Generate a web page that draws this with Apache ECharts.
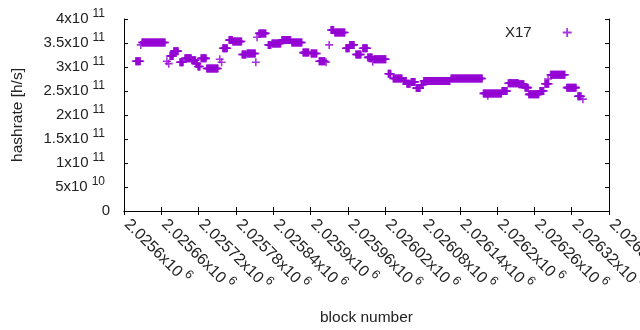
<!DOCTYPE html>
<html>
<head>
<meta charset="utf-8">
<title>hashrate</title>
<script src="https://cdn.jsdelivr.net/npm/echarts@6/dist/echarts.min.js"></script>
<style>
  html, body { margin: 0; padding: 0; background: #fff; }
  #main { width: 640px; height: 330px; }
</style>
</head>
<body>
<div id="main"></div>
<script>
// runs of blocks with the same hashrate
var runStart = [2025619, 2025627, 2025629, 2025669, 2025672, 2025674, 2025680, 2025690, 2025698, 2025709,
                2025716, 2025719, 2025724, 2025733, 2025754, 2025757, 2025759, 2025769, 2025775, 2025790,
                2025798, 2025812, 2025814, 2025817, 2025832, 2025838, 2025854, 2025870, 2025888, 2025901,
                2025914, 2025925, 2025930, 2025933, 2025939, 2025957, 2025963, 2025973, 2025984, 2025992,
                2026000, 2026002, 2026025, 2026033, 2026049, 2026055, 2026062, 2026070, 2026078, 2026082,
                2026126, 2026178, 2026185, 2026208, 2026218, 2026235, 2026245, 2026251, 2026269, 2026277,
                2026282, 2026286, 2026312, 2026330, 2026338];
var runEnd   = [2025626, 2025627, 2025666, 2025669, 2025672, 2025679, 2025687, 2025695, 2025708, 2025715,
                2025718, 2025722, 2025732, 2025751, 2025754, 2025757, 2025766, 2025774, 2025789, 2025796,
                2025811, 2025812, 2025814, 2025828, 2025836, 2025852, 2025868, 2025886, 2025897, 2025910,
                2025923, 2025925, 2025930, 2025937, 2025955, 2025962, 2025970, 2025981, 2025991, 2025999,
                2026000, 2026021, 2026029, 2026047, 2026054, 2026060, 2026068, 2026076, 2026081, 2026124,
                2026176, 2026207, 2026185, 2026216, 2026234, 2026243, 2026250, 2026267, 2026275, 2026283,
                2026282, 2026309, 2026327, 2026335, 2026338];
var runRate  = [3.12, 3.46, 3.51, 3.12, 3.07, 3.23, 3.33, 3.10, 3.18, 3.14,
                3.07, 3.01, 3.18, 2.97, 3.16, 3.10, 3.39, 3.56, 3.53, 3.26,
                3.28, 3.10, 3.62, 3.70, 3.46, 3.49, 3.56, 3.51, 3.30, 3.28,
                3.12, 3.10, 3.46, 3.77, 3.72, 3.39, 3.46, 3.26, 3.39, 3.20,
                3.11, 3.16, 2.86, 2.76, 2.71, 2.65, 2.69, 2.56, 2.63, 2.71,
                2.76, 2.45, 2.40, 2.50, 2.66, 2.64, 2.57, 2.43, 2.50, 2.65,
                2.75, 2.84, 2.57, 2.39, 2.33]; // x 10^11 h/s

var xTickLabels = ['2.0256x10^6', '2.02566x10^6', '2.02572x10^6', '2.02578x10^6', '2.02584x10^6',
                   '2.0259x10^6', '2.02596x10^6', '2.02602x10^6', '2.02608x10^6', '2.02614x10^6',
                   '2.0262x10^6', '2.02626x10^6', '2.02632x10^6', '2.02638x10^6'];
var yTickLabels = ['0', '5x10^10', '1x10^11', '1.5x10^11', '2x10^11', '2.5x10^11',
                   '3x10^11', '3.5x10^11', '4x10^11'];

var points = [];
for (var i = 0; i < runStart.length; i++) {
    for (var b = runStart[i]; b <= runEnd[i]; b++) {
        points.push([b, runRate[i] * 1e11]);
    }
}

function sup(txt) {
    var p = txt.split('^');
    if (p.length < 2) return '{m|' + p[0] + '}';
    return '{m|' + p[0] + '}{s|' + p[1] + '}';
}

var FONT = 'Liberation Sans, Arial, sans-serif';
var plus = 'path://M0,4H10V6H0Z M4,0H6V10H4Z';
var purple = '#9400d3';

var chart = echarts.init(document.getElementById('main'));
var option = {
    animation: false,
    textStyle: { fontFamily: FONT },
    grid: { left: 124, right: 31, top: 19, bottom: 119, containLabel: false, outerBoundsMode: 'none' },
    legend: {
        left: 500, top: 20,
        align: 'right',
        itemWidth: 9, itemHeight: 9,
        data: [{ name: 'X17', icon: plus }],
        formatter: '{t|X17}',
        textStyle: {
            rich: { t: { fontSize: 15, color: '#222', fontFamily: FONT, padding: [0, 26, 0, 0] } }
        }
    },
    xAxis: [{
        type: 'value',
        min: 2025600, max: 2026380, interval: 60,
        name: 'block number', nameLocation: 'middle', nameGap: 99,
        nameTextStyle: { fontSize: 15.5, color: '#222', fontFamily: FONT },
        axisLine: { show: true, lineStyle: { color: '#000', width: 1 } },
        axisTick: { show: true, inside: true, length: 4, lineStyle: { color: '#000' } },
        splitLine: { show: false },
        axisLabel: {
            rotate: -45, margin: 8, interval: 0, hideOverlap: false,
            showMaxLabel: true, showMinLabel: true,
            formatter: function (v, idx) { return sup(xTickLabels[idx] || ''); },
            rich: {
                m: { fontSize: 16, color: '#222', fontFamily: FONT, lineHeight: 26, padding: [0, 0, 0, 4] },
                s: { fontSize: 12.5, color: '#222', fontFamily: FONT, lineHeight: 12, verticalAlign: 'top', padding: [0, 0, 0, 3] }
            }
        }
    }, {
        type: 'value', position: 'top',
        min: 2025600, max: 2026380, interval: 60,
        axisLine: { show: true, lineStyle: { color: '#000', width: 1 } },
        axisTick: { show: true, inside: true, length: 4, lineStyle: { color: '#000' } },
        axisLabel: { show: false }, splitLine: { show: false }
    }],
    yAxis: [{
        type: 'value',
        min: 0, max: 4e11, interval: 5e10,
        name: 'hashrate [h/s]', nameLocation: 'middle', nameGap: 98,
        nameTextStyle: { fontSize: 15.5, color: '#222', fontFamily: FONT },
        axisLine: { show: true, lineStyle: { color: '#000', width: 1 } },
        axisTick: { show: true, inside: true, length: 4, lineStyle: { color: '#000' } },
        splitLine: { show: false },
        axisLabel: {
            margin: 14,
            formatter: function (v, idx) { return sup(yTickLabels[idx] || ''); },
            rich: {
                m: { fontSize: 15, color: '#222', fontFamily: FONT, lineHeight: 22 },
                s: { fontSize: 12, color: '#222', fontFamily: FONT, lineHeight: 12, verticalAlign: 'top', padding: [0, 5, 0, 4] }
            }
        }
    }, {
        type: 'value', position: 'right',
        min: 0, max: 4e11, interval: 5e10,
        axisLine: { show: true, lineStyle: { color: '#000', width: 1 } },
        axisTick: { show: true, inside: true, length: 4, lineStyle: { color: '#000' } },
        axisLabel: { show: false }, splitLine: { show: false }
    }],
    series: [{
        name: 'X17',
        type: 'scatter',
        symbol: plus,
        symbolSize: 8,
        itemStyle: { color: purple },
        data: points
    }]
};
chart.setOption(option);
</script>
</body>
</html>
